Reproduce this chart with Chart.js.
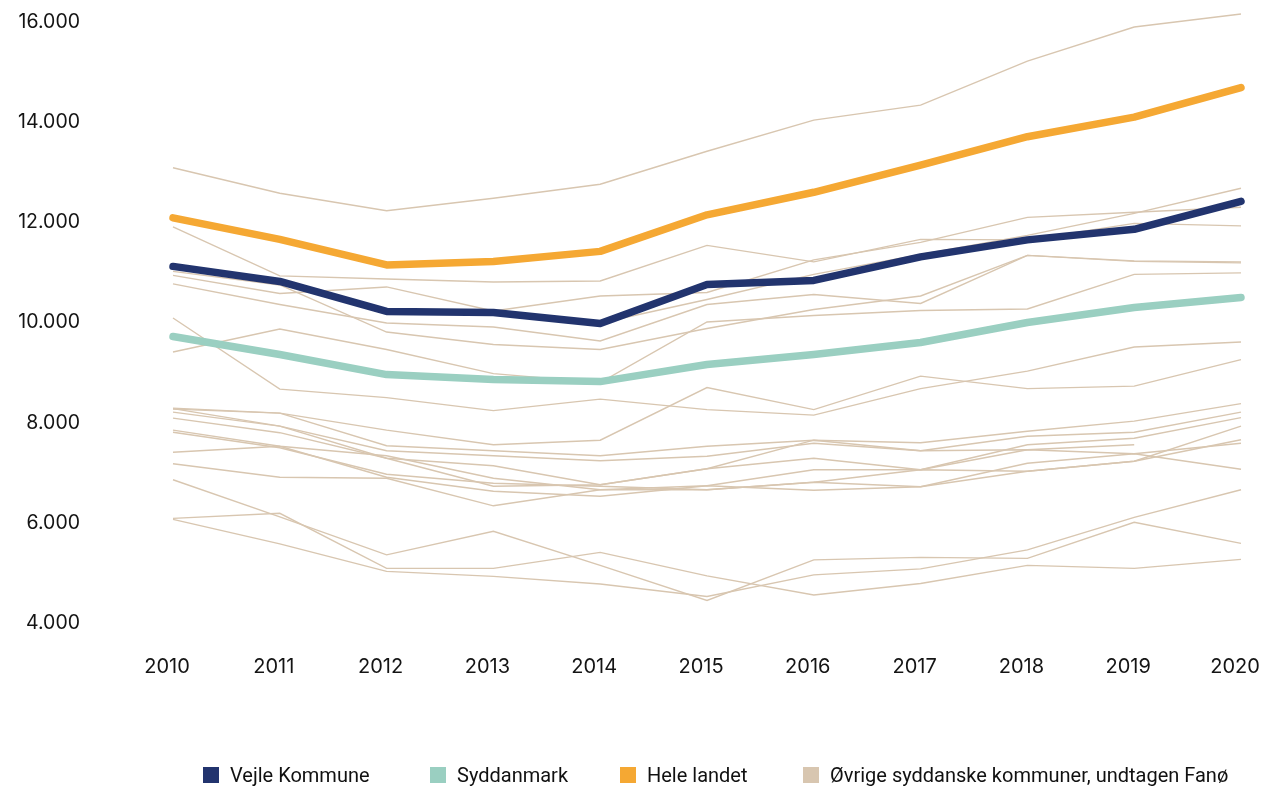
<!DOCTYPE html>
<html lang="da">
<head>
<meta charset="utf-8">
<title>Vejle Kommune - udvikling 2010-2020</title>
<script src="https://cdn.jsdelivr.net/npm/chart.js@4.4.1/dist/chart.umd.min.js"></script>
<style>
    html, body { margin: 0; padding: 0; background: #fff; }
    #wrap { position: relative; width: 1261px; height: 787px; }
    #legend { position: absolute; top: 763px; left: 0; width: 1261px; height: 22px;
              font-family: Roboto, "Noto Sans", sans-serif; font-size: 20px; color: #111; }
    .item { position: absolute; top: 0; display: flex; align-items: center; white-space: nowrap; }
    .box { width: 16px; height: 16px; margin-right: 11px; }
</style>
</head>
<body>
<div id="wrap">
    <canvas id="chart" width="1261" height="787"></canvas>
    <div id="legend"></div>
</div>
<script>
// Data
const years = ['2010', '2011', '2012', '2013', '2014', '2015', '2016', '2017', '2018', '2019', '2020'];
const yTicks = [4000, 6000, 8000, 10000, 12000, 14000, 16000];

const vejle = [11120, 10820, 10220, 10200, 9980, 10760, 10840, 11310, 11650, 11860, 12420];
const syddanmark = [9720, 9360, 8960, 8860, 8820, 9160, 9360, 9600, 10000, 10300, 10500];
const heleLandet = [12090, 11660, 11150, 11220, 11420, 12150, 12600, 13140, 13710, 14100, 14690];

// Øvrige syddanske kommuner (undtagen Fanø)
const kommune01 = [13090, 12580, 12230, 12480, 12760, 13420, 14040, 14340, 15220, 15900, 16160];
const kommune02 = [11910, 10930, 10870, 10810, 10830, 11540, 11210, 11660, 11650, 11980, 11930];
const kommune03 = [10940, 10580, 10710, 10230, 10530, 10600, 11250, 11600, 12100, 12200, 12300];
const kommune04 = [11130, 10840, 10240, 10210, 9990, 10460, 10960, 11360, 11740, 12180, 12680];
const kommune05 = [11020, 10750, 9810, 9560, 9460, 9880, 10260, 10530, 11340, 11230, 11210];
const kommune06 = [10090, 8670, 8500, 8240, 8470, 8260, 8150, 8680, 9030, 9510, 9610];
const kommune07 = [9410, 9870, 9460, 8980, 8800, 10010, 10140, 10240, 10270, 10960, 10990];
const kommune08 = [8290, 8190, 7850, 7560, 7650, 8700, 8260, 8930, 8680, 8730, 9260];
const kommune09 = [8270, 8190, 7540, 7440, 7340, 7530, 7650, 7600, 7830, 8030, 8380];
const kommune10 = [8210, 7930, 7440, 7340, 7240, 7330, 7590, 7440, 7730, 7810, 8210];
const kommune11 = [8090, 7800, 7290, 7140, 6760, 7080, 7290, 7060, 7560, 7690, 8100];
const kommune12 = [7850, 7530, 7340, 6890, 6660, 6740, 7060, 7060, 7460, 7560, null];
const kommune13 = [7810, 7500, 6970, 6790, 6730, 6660, 6810, 6720, 7190, 7380, 7070];
const kommune14 = [7410, 7530, 6910, 6630, 6530, 6740, 6650, 6720, 7030, 7230, 7930];
const kommune15 = [7180, 6910, 6890, 6340, 6660, 6660, 6810, 7060, 7030, 7230, 7660];
const kommune16 = [8280, 7930, 7290, 6730, 6760, 7080, 7650, 7440, 7460, 7380, 7590];
const kommune17 = [6860, 6120, 5360, 5830, 5150, 4450, 5260, 5310, 5290, 6010, 5590];
const kommune18 = [6090, 6190, 5090, 5090, 5410, 4940, 4560, 4790, 5150, 5090, 5270];
const kommune19 = [6070, 5580, 5030, 4930, 4780, 4530, 4960, 5080, 5460, 6110, 6660];
const kommune20 = [10770, 10360, 9990, 9910, 9630, 10360, 10560, 10380, 11340, 11220, 11190];

const ovrige = [kommune01, kommune02, kommune03, kommune04, kommune05, kommune06, kommune07,
    kommune08, kommune09, kommune10, kommune11, kommune12, kommune13, kommune14, kommune15,
    kommune16, kommune17, kommune18, kommune19, kommune20];

const colors = {
    vejle: '#22346e',
    syddanmark: '#9acfc1',
    hele: '#f5a833',
    ovrige: '#d8c6b0',
};

function thousands(v) {
    return String(v).replace(/\B(?=(\d{3})+(?!\d))/g, '.');
}

function mainLine(label, data, color) {
    return {
        label: label,
        data: data,
        borderColor: color,
        backgroundColor: color,
        borderWidth: 7.5,
        borderCapStyle: 'round',
        borderJoinStyle: 'round',
        pointRadius: 0,
        tension: 0,
        clip: false,
    };
}

// Index 0 is drawn on top in Chart.js, so the main series go first
const datasets = [
    mainLine('Hele landet', heleLandet, colors.hele),
    mainLine('Vejle Kommune', vejle, colors.vejle),
    mainLine('Syddanmark', syddanmark, colors.syddanmark),
];
ovrige.forEach((data, i) => {
    datasets.push({
        label: i === 0 ? 'Øvrige syddanske kommuner, undtagen Fanø' : '',
        data: data,
        borderColor: colors.ovrige,
        backgroundColor: colors.ovrige,
        borderWidth: 1.4,
        pointRadius: 0,
        tension: 0,
        spanGaps: false,
        clip: false,
    });
});

const tickFont = { family: 'Inter, "Open Sans", sans-serif', size: 19.5 };

new Chart(document.getElementById('chart'), {
    type: 'line',
    data: { labels: years, datasets: datasets },
    options: {
        responsive: false,
        animation: false,
        layout: { padding: { top: 22, right: 20, bottom: 0, left: 0 } },
        plugins: {
            legend: { display: false },
            tooltip: { enabled: false },
        },
        scales: {
            x: {
                grid: { display: false, drawTicks: false },
                border: { display: false },
                ticks: { color: '#141414', font: { ...tickFont, size: 20 }, padding: 32, labelOffset: -6, maxRotation: 0 },
                // fixed height; drop the label padding so the plot keeps its full width
                afterFit: (scale) => {
                    scale.height = 164;
                    scale.paddingLeft = 0;
                    scale.paddingRight = 0;
                },
            },
            y: {
                min: 4000,
                max: 16000,
                afterBuildTicks: (scale) => { scale.ticks = yTicks.map(v => ({ value: v })); },
                grid: { display: false, drawTicks: false },
                border: { display: false },
                ticks: { color: '#141414', font: tickFont, padding: 93, callback: (v) => thousands(v) },
                afterFit: (scale) => {
                    scale.width = 173;
                    scale.paddingTop = 0;
                    scale.paddingBottom = 0;
                },
            },
        },
    },
});

// Legend
const legendItems = [
    { text: 'Vejle Kommune', color: colors.vejle, left: 203 },
    { text: 'Syddanmark', color: colors.syddanmark, left: 430 },
    { text: 'Hele landet', color: colors.hele, left: 620 },
    { text: 'Øvrige syddanske kommuner, undtagen Fanø', color: colors.ovrige, left: 803 },
];
const legend = document.getElementById('legend');
legendItems.forEach((item) => {
    const el = document.createElement('div');
    el.className = 'item';
    el.style.left = item.left + 'px';
    el.innerHTML = `<span class="box" style="background:${item.color}"></span><span>${item.text}</span>`;
    legend.appendChild(el);
});
</script>
</body>
</html>
